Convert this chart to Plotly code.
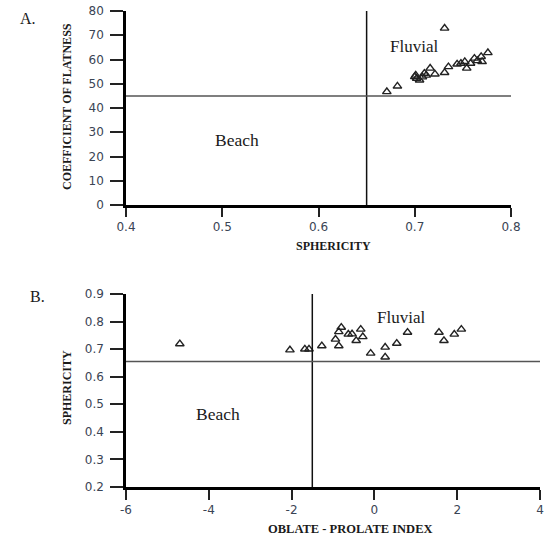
import plotly.graph_objects as go

# Panel A: sphericity vs coefficient of flatness
a_sphericity = [0.731, 0.671, 0.682, 0.700, 0.701, 0.702, 0.705, 0.708, 0.710, 0.712,
                0.716, 0.721, 0.731, 0.735, 0.744, 0.748, 0.752, 0.754, 0.758, 0.762,
                0.765, 0.769, 0.770, 0.776]
a_flatness = [72.9, 46.7, 49.0, 52.9, 53.5, 52.2, 51.5, 52.8, 54.3, 53.5,
              56.4, 54.0, 54.6, 57.0, 58.1, 58.4, 59.1, 56.4, 58.4, 60.5,
              59.5, 61.2, 59.1, 62.8]

# Panel B: oblate-prolate index vs sphericity
b_opi = [-4.70, -2.04, -1.68, -1.58, -1.27, -0.94, -0.86, -0.80, -0.86, -0.63,
         -0.54, -0.44, -0.33, -0.28, -0.09, 0.26, 0.26, 0.54, 0.80, 1.56,
         1.68, 1.93, 2.10]
b_sphericity = [0.719, 0.697, 0.700, 0.700, 0.712, 0.736, 0.763, 0.779, 0.712, 0.754,
                0.755, 0.731, 0.772, 0.745, 0.685, 0.707, 0.671, 0.721, 0.761, 0.761,
                0.731, 0.754, 0.772]

a_x_ticks = [0.4, 0.5, 0.6, 0.7, 0.8]
a_x_labels = ["0.4", "0.5", "0.6", "0.7", "0.8"]
b_x_ticks = [-6, -4, -2, 0, 2, 4]
b_x_labels = ["-6", "-4", "-2", "0", "2", "4"]

a_split_x, a_split_y = 0.65, 45
b_split_x, b_split_y = -1.5, 0.655

W, H = 549, 539
TICKFONT = dict(family="DejaVu Sans", size=12, color="#3a4454")
SERIF = "Liberation Serif"

fig = go.Figure()
marker = dict(symbol="triangle-up-open", size=7.5, color="#222222", line=dict(width=1.4, color="#222222"))
fig.add_trace(go.Scatter(x=a_sphericity, y=a_flatness, mode="markers", marker=marker,
                         xaxis="x", yaxis="y", showlegend=False))
fig.add_trace(go.Scatter(x=b_opi, y=b_sphericity, mode="markers", marker=marker,
                         xaxis="x2", yaxis="y2", showlegend=False))

axis_common = dict(showgrid=False, zeroline=False, showline=True, linecolor="black",
                   linewidth=2.5, ticks="outside", tickcolor="#222222", tickwidth=1.5,
                   tickfont=TICKFONT, automargin=False)

fig.update_layout(
    template="none",
    width=W, height=H, margin=dict(l=0, r=0, t=0, b=0, pad=0), autosize=False,
    paper_bgcolor="white", plot_bgcolor="white",
    xaxis=dict(domain=[126 / W, 511 / W], range=[0.4, 0.8], tickvals=a_x_ticks,
               ticktext=a_x_labels, anchor="y", ticklen=9, **axis_common),
    yaxis=dict(domain=[1 - 205 / H, 1 - 11 / H], range=[0, 80], dtick=10, anchor="x",
               ticklen=13, ticklabelstandoff=4, **axis_common),
    xaxis2=dict(domain=[126 / W, 540 / W], range=[-6, 4], tickvals=b_x_ticks,
                ticktext=b_x_labels, anchor="y2", ticklen=10, **axis_common),
    yaxis2=dict(domain=[1 - 487 / H, 1 - 294 / H], range=[0.2, 0.9], dtick=0.1, anchor="x2",
                tickformat=".1f", ticklen=13, ticklabelstandoff=4, **axis_common),
)

# dividing lines
fig.add_shape(type="line", xref="x", yref="y domain", x0=a_split_x, x1=a_split_x, y0=0, y1=1,
              line=dict(color="#111111", width=1.5))
fig.add_shape(type="line", xref="x domain", yref="y", x0=0, x1=1, y0=a_split_y, y1=a_split_y,
              line=dict(color="#555555", width=1.5))
fig.add_shape(type="line", xref="x2", yref="y2 domain", x0=b_split_x, x1=b_split_x, y0=0, y1=1,
              line=dict(color="#111111", width=1.5))
fig.add_shape(type="line", xref="x2 domain", yref="y2", x0=0, x1=1, y0=b_split_y, y1=b_split_y,
              line=dict(color="#555555", width=1.5))

def label(text, x, y, xref, yref, size=15, bold=False, angle=0):
    fig.add_annotation(text=("<b>%s</b>" % text) if bold else text, x=x, y=y, xref=xref, yref=yref,
                       showarrow=False, textangle=angle, xanchor="center", yanchor="middle",
                       font=dict(family=SERIF, size=size, color="#1a1a1a"))

# region labels
label("Fluvial", 0.699, 65.2, "x", "y", size=17)
label("Beach", 0.515, 26.8, "x", "y", size=17.5)
label("Fluvial", 0.65, 0.813, "x2", "y2", size=17)
label("Beach", -3.77, 0.465, "x2", "y2", size=17.5)

# panel labels
label("A.", 28 / W, 1 - 19 / H, "paper", "paper", size=16)
label("B.", 37 / W, 1 - 297 / H, "paper", "paper", size=16)

# axis titles
label("SPHERICITY", 333 / W, 1 - 246 / H, "paper", "paper", size=12, bold=True)
label("COEFFICIENT OF FLATNESS", 67 / W, 1 - 107 / H, "paper", "paper", size=12, bold=True, angle=-90)
label("SPHERICITY", 67 / W, 1 - 388 / H, "paper", "paper", size=12, bold=True, angle=-90)
label("OBLATE - PROLATE INDEX", 350 / W, 1 - 529 / H, "paper", "paper", size=12.5, bold=True)

fig.write_html("out.html")
